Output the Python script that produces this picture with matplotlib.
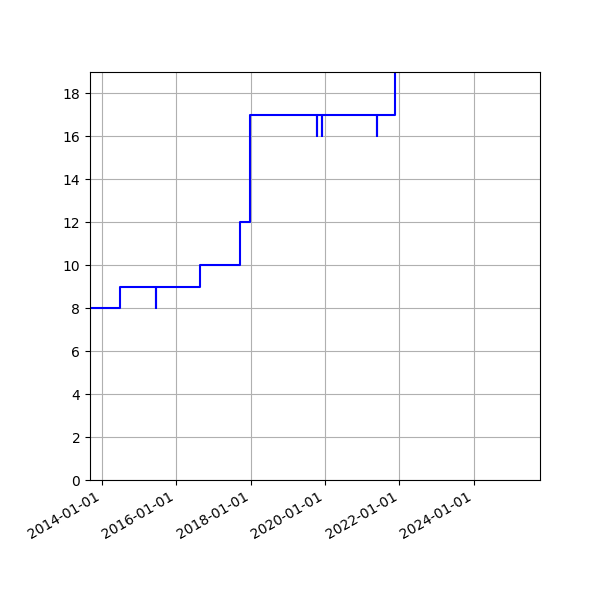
import matplotlib
matplotlib.use("Agg")
import matplotlib.pyplot as plt
import matplotlib.dates as mdates
import pandas as pd

# dates where the value changes (steps)
dates = ['2013-09-04', '2014-06-26', '2015-06-16', '2015-06-18', '2016-08-18',
         '2017-09-16', '2017-12-22', '2019-10-10', '2019-10-12', '2019-12-01',
         '2019-12-03', '2021-05-24', '2021-05-26', '2021-11-18']
values = [8, 9, 8, 9, 10, 12, 17, 16, 17, 16, 17, 16, 17, 20]

x = pd.to_datetime(dates)

fig = plt.figure(figsize=(6, 6), dpi=100)
ax = fig.add_axes([0.15, 0.2, 0.75, 0.68])
ax.plot(x, values, color='blue', drawstyle='steps-post')
ax.set_ylim(0, 19)
ax.set_xlim(pd.Timestamp('2013-09-04'), pd.Timestamp('2025-10-15'))
ax.set_yticks(range(0, 19, 2))
ax.xaxis.set_major_locator(mdates.YearLocator(2))
ax.xaxis.set_major_formatter(mdates.DateFormatter('%Y-%m-%d'))
ax.grid()
plt.setp(ax.get_xticklabels(), rotation=30, ha='right')
fig.savefig('out.png')
